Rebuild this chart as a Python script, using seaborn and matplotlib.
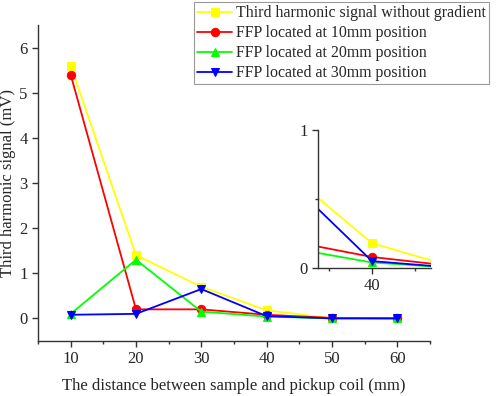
import numpy as np
import pandas as pd
import matplotlib
matplotlib.use("Agg")
import matplotlib.pyplot as plt
import seaborn as sns
from matplotlib.ticker import MultipleLocator

sns.set_style("ticks")
plt.rcParams['font.family'] = ['Liberation Serif', 'DejaVu Serif']
plt.rcParams['font.size'] = 12

# data
distance = [10, 20, 30, 40, 50, 60]
no_gradient = [5.6, 1.4, 0.7, 0.18, 0.0, 0.0]
ffp_10mm = [5.4, 0.2, 0.2, 0.08, 0.01, 0.0]
ffp_20mm = [0.1, 1.3, 0.15, 0.04, 0.0, 0.0]
ffp_30mm = [0.08, 0.1, 0.65, 0.05, 0.0, 0.0]

names = ["Third harmonic signal without gradient",
         "FFP located at 10mm position",
         "FFP located at 20mm position",
         "FFP located at 30mm position"]
colors = ["#FFFF00", "#FF0000", "#00FF00", "#0000FF"]
marks = ["s", "o", "^", "v"]

df = pd.DataFrame({
    "x": distance * 4,
    "y": no_gradient + ffp_10mm + ffp_20mm + ffp_30mm,
    "series": sum([[n] * len(distance) for n in names], []),
})

fig = plt.figure(figsize=(4.98, 3.96), dpi=100)
ax = fig.add_axes([0.0763, 0.139, 0.787, 0.798])
ins = fig.add_axes([0.6386, 0.3232, 0.227, 0.3485])

def draw(a, ms):
    for n, c, m in zip(names, colors, marks):
        sub = df[df.series == n]
        sns.lineplot(data=sub, x="x", y="y", ax=a, color=c, marker=m,
                     markersize=ms, markeredgecolor=c, linewidth=1.3,
                     label=n, legend=False)

draw(ax, 6)
draw(ins, 6)

for a in (ax, ins):
    sns.despine(ax=a)
    for s in ("left", "bottom"):
        a.spines[s].set_color("#333333")
        a.spines[s].set_linewidth(1.0)
    a.tick_params(direction="out", color="#333333", width=1.0, length=4, labelsize=12)
    a.tick_params(which="minor", direction="out", color="#333333", width=1.0, length=2.5)
    a.set_xlabel("")
    a.set_ylabel("")

ax.set_xlim(5, 65)
ax.set_ylim(-0.5, 6.5)
ax.xaxis.set_minor_locator(MultipleLocator(5))
ax.set_xticks([10, 20, 30, 40, 50, 60])
ax.set_yticks([0, 1, 2, 3, 4, 5, 6])
ax.set_xlabel("The distance between sample and pickup coil (mm)", fontsize=12, labelpad=8)
ax.set_ylabel("Third harmonic signal (mV)", fontsize=12, labelpad=2)

ins.set_xlim(33.7, 46.9)
ins.set_ylim(0, 1)
ins.set_xticks([40])
ins.xaxis.set_minor_locator(MultipleLocator(5))
ins.set_yticks([0, 1])
ins.yaxis.set_minor_locator(MultipleLocator(0.5))
ins.patch.set_alpha(0)

h, l = ax.get_legend_handles_labels()
leg = fig.legend(h, l, loc="upper left", bbox_to_anchor=(194 / 498, 1 - 2 / 396),
                 borderaxespad=0, fancybox=False, framealpha=1, edgecolor="#999999",
                 handlelength=2.2, labelspacing=0.25, borderpad=0.2, handletextpad=0.25,
                 fontsize=11.4)
leg.get_frame().set_linewidth(0.8)

fig.savefig("out.png", dpi=100)
